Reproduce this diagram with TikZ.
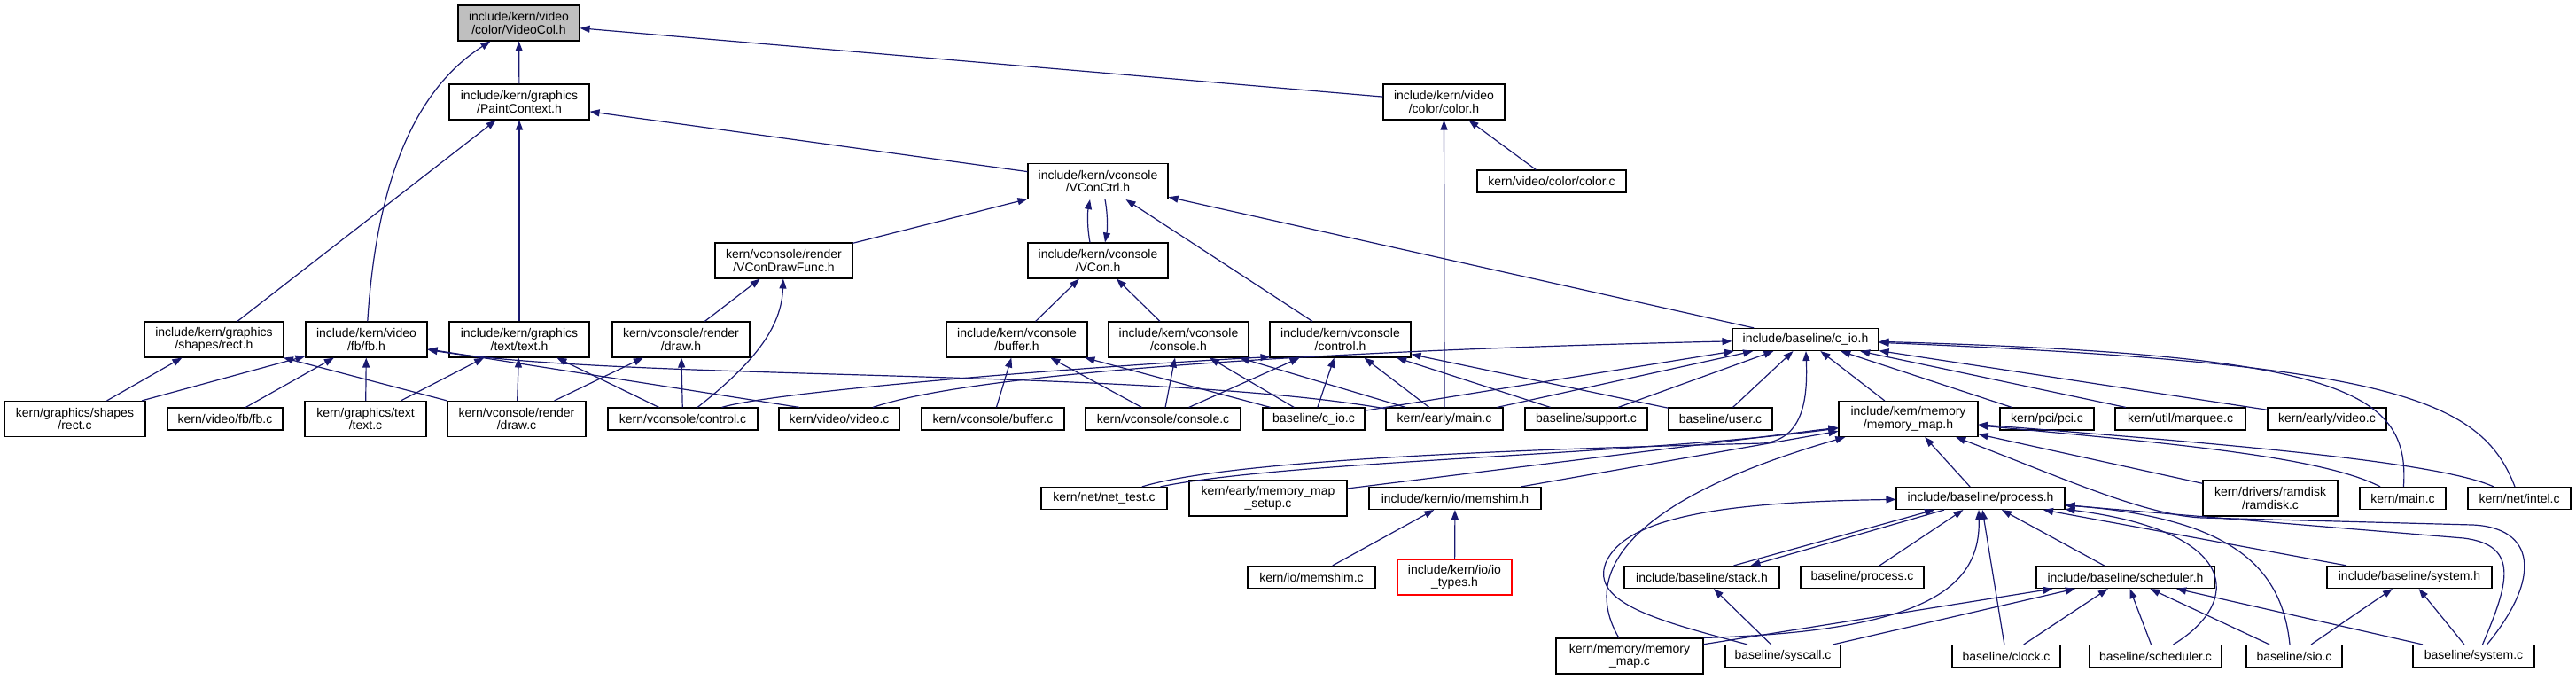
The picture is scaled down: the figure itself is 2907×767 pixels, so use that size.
\documentclass[tikz,border=0pt]{standalone}
\usepackage{fontspec}
\setmainfont{Liberation Sans}
\usetikzlibrary{arrows.meta}
\definecolor{edgec}{HTML}{191970}
\definecolor{focusfill}{HTML}{BFBFBF}
\begin{document}
\begin{tikzpicture}[x=1pt,y=-1pt,
  nd/.style={draw=black, line width=1.1pt, fill=white, inner xsep=0pt, inner ysep=1pt, align=center, font=\fontsize{14}{14.7}\selectfont, minimum height=25pt},
  nd2/.style={nd, minimum height=40pt},
  ar/.style={draw=edgec, line width=1.2pt, -{Triangle[length=11pt,width=8pt]}}
]
\useasboundingbox (0,0) rectangle (2907,767);
% row 1-4
\node[nd2, fill=focusfill, minimum width=137pt] (videocol) at (585.5,26) {include/kern/video\\/color/VideoCol.h};
\node[nd2, minimum width=158pt] (paintctx) at (586,115) {include/kern/graphics\\/PaintContext.h};
\node[nd2, minimum width=137pt] (colorh) at (1629.5,115) {include/kern/video\\/color/color.h};
\node[nd2, minimum width=158pt] (vconctrl) at (1239,204.5) {include/kern/vconsole\\/VConCtrl.h};
\node[nd, minimum width=168pt] (colorc) at (1751,204.5) {kern/video/color/color.c};
\node[nd2, minimum width=155pt] (drawfunc) at (884.5,294) {kern/vconsole/render\\/VConDrawFunc.h};
\node[nd2, minimum width=158pt] (vcon) at (1239,294) {include/kern/vconsole\\/VCon.h};
% row 5
\node[nd2, minimum width=157pt] (recth) at (241.5,383) {include/kern/graphics\\/shapes/rect.h};
\node[nd2, minimum width=137pt] (fbh) at (413.5,383) {include/kern/video\\/fb/fb.h};
\node[nd2, minimum width=158pt] (texth) at (586,383) {include/kern/graphics\\/text/text.h};
\node[nd2, minimum width=155pt] (drawh) at (768.5,383) {kern/vconsole/render\\/draw.h};
\node[nd2, minimum width=159pt] (bufferh) at (1147.5,383) {include/kern/vconsole\\/buffer.h};
\node[nd2, minimum width=158pt] (consoleh) at (1330,383) {include/kern/vconsole\\/console.h};
\node[nd2, minimum width=159pt] (controlh) at (1512.5,383) {include/kern/vconsole\\/control.h};
\node[nd, minimum width=165pt] (cioh) at (2037.5,383) {include/baseline/c\_io.h};
% row 6
\node[nd2, minimum width=159pt] (rectc) at (84.5,472.5) {kern/graphics/shapes\\/rect.c};
\node[nd, minimum width=130pt] (fbc) at (254,472.5) {kern/video/fb/fb.c};
\node[nd2, minimum width=137pt] (textc) at (412.5,472.5) {kern/graphics/text\\/text.c};
\node[nd2, minimum width=156pt] (drawc) at (583,472.5) {kern/vconsole/render\\/draw.c};
\node[nd, minimum width=169pt] (controlc) at (770.5,472.5) {kern/vconsole/control.c};
\node[nd, minimum width=136pt] (videoc) at (947,472.5) {kern/video/video.c};
\node[nd, minimum width=161pt] (bufferc) at (1120.5,472.5) {kern/vconsole/buffer.c};
\node[nd, minimum width=175pt] (consolec) at (1312.5,472.5) {kern/vconsole/console.c};
\node[nd, minimum width=115pt] (cioc) at (1482.5,472.5) {baseline/c\_io.c};
\node[nd, minimum width=132pt] (earlymain) at (1630,472.5) {kern/early/main.c};
\node[nd, minimum width=138pt] (supportc) at (1790,472.5) {baseline/support.c};
\node[nd, minimum width=117pt] (userc) at (1941.5,472.5) {baseline/user.c};
\node[nd2, minimum width=157pt] (memmaph) at (2153.5,472.5) {include/kern/memory\\/memory\_map.h};
\node[nd, minimum width=106pt] (pcic) at (2310,472.5) {kern/pci/pci.c};
\node[nd, minimum width=147pt] (marqueec) at (2460.5,472.5) {kern/util/marquee.c};
\node[nd, minimum width=134pt] (earlyvideo) at (2626,472.5) {kern/early/video.c};
% row 7
\node[nd, minimum width=142pt] (nettest) at (1246,562) {kern/net/net\_test.c};
\node[nd2, minimum width=178pt] (mmsetup) at (1431,562) {kern/early/memory\_map\\\_setup.c};
\node[nd, minimum width=194pt] (memshimh) at (1642,562) {include/kern/io/memshim.h};
\node[nd, minimum width=190pt] (processh) at (2235,562) {include/baseline/process.h};
\node[nd2, minimum width=152pt] (ramdisk) at (2562,562) {kern/drivers/ramdisk\\/ramdisk.c};
\node[nd, minimum width=97pt] (kmain) at (2711.5,562) {kern/main.c};
\node[nd, minimum width=116pt] (intel) at (2843,562) {kern/net/intel.c};
% row 8
\node[nd, minimum width=144pt] (memshimc) at (1480,651) {kern/io/memshim.c};
\node[nd2, draw=red, minimum width=129pt] (iotypes) at (1641.5,651) {include/kern/io/io\\\_types.h};
\node[nd, minimum width=175pt] (stackh) at (1920.5,651) {include/baseline/stack.h};
\node[nd, minimum width=139pt] (processc) at (2101.5,651) {baseline/process.c};
\node[nd, minimum width=201pt] (schedh) at (2398.5,651) {include/baseline/scheduler.h};
\node[nd, minimum width=186pt] (systemh) at (2719,651) {include/baseline/system.h};
% row 9
\node[nd2, minimum width=166pt] (mmapc) at (1839,740) {kern/memory/memory\\\_map.c};
\node[nd, minimum width=130pt] (syscallc) at (2012,740) {baseline/syscall.c};
\node[nd, minimum width=122pt] (clockc) at (2264,740) {baseline/clock.c};
\node[nd, minimum width=149pt] (schedc) at (2432.5,740) {baseline/scheduler.c};
\node[nd, minimum width=108pt] (sioc) at (2589,740) {baseline/sio.c};
\node[nd, minimum width=137pt] (systemc) at (2791.5,740) {baseline/system.c};

% edges to upper rows
\draw[ar] (paintctx) -- (videocol);
\draw[ar] (fbh) .. controls (425,200) and (470,100) .. (videocol);
\draw[ar] (colorh) -- (videocol);
\draw[ar] (vconctrl) -- (paintctx);
\draw[ar] (recth) -- (paintctx);
\draw[ar] (texth) -- (paintctx);
\draw[ar] (colorc) -- (colorh);
\draw[ar] (earlymain) -- (colorh);
\draw[ar] (drawfunc) -- (vconctrl);
\draw[ar] ([xshift=-9pt]vcon.north) .. controls +(-3,-16) and +(-3,16) .. ([xshift=-9pt]vconctrl.south);
\draw[ar] ([xshift=8pt]vconctrl.south) .. controls +(3,16) and +(3,-16) .. ([xshift=8pt]vcon.north);
\draw[ar] (controlh) -- (vconctrl);
\draw[ar] (cioh) -- (vconctrl);
\draw[ar] (bufferh) -- (vcon);
\draw[ar] (consoleh) -- (vcon);
\draw[ar] (drawh) -- (drawfunc);
\draw[ar] (controlc) .. controls (850,410) and (882,370) .. (drawfunc);

% row 6 -> row 5 (left)
\draw[ar] (rectc) -- (recth);
\draw[ar] (rectc) -- (fbh);
\draw[ar] (drawc) -- (recth);
\draw[ar] (fbc) -- (fbh);
\draw[ar] (textc) -- (fbh);
\draw[ar] ([xshift=-45pt]videoc.north) -- (fbh);
\draw[ar] (earlymain) .. controls (1300,415) and (700,430) .. (fbh);
\draw[ar] (textc) -- (texth);
\draw[ar] (drawc) -- (texth);
\draw[ar] (controlc) -- (texth);
\draw[ar] (drawc) -- (drawh);
\draw[ar] (controlc) -- (drawh);
\draw[ar] (controlc) .. controls (880,440) and (1250,412) .. ([xshift=1pt,yshift=1pt]controlh.south west);
\draw[ar] (videoc) .. controls (1100,420) and (1500,395) .. (cioh);

% row 6 -> row 5 (middle)
\draw[ar] (bufferc) -- (bufferh);
\draw[ar] (consolec) -- (bufferh);
\draw[ar] (cioc) -- (bufferh);
\draw[ar] (consolec) -- (consoleh);
\draw[ar] (cioc) -- (consoleh);
\draw[ar] (earlymain) -- (consoleh);
\draw[ar] (consolec) -- (controlh);
\draw[ar] (cioc) -- (controlh);
\draw[ar] (earlymain) -- (controlh);
\draw[ar] (supportc) -- (controlh);
\draw[ar] (userc) -- (controlh);
\draw[ar] (cioc) -- (cioh);
\draw[ar] (earlymain) -- (cioh);
\draw[ar] (supportc) -- (cioh);
\draw[ar] (userc) -- (cioh);
\draw[ar] (memmaph) -- (cioh);
\draw[ar] (pcic) -- (cioh);
\draw[ar] (marqueec) -- (cioh);
\draw[ar] (earlyvideo) -- (cioh);
\draw[ar] (kmain) .. controls (2720,440) and (2640,400) .. (cioh);
\draw[ar] (intel) .. controls (2800,450) and (2700,410) .. (cioh);
\draw[ar] (nettest) .. controls (1400,515) and (1800,505) .. (1990,500) .. controls (2035,495) and (2040,450) .. (cioh);

% memory_map.h
\draw[ar] (nettest) .. controls (1450,520) and (1850,513) .. (memmaph);
\draw[ar] (mmsetup) -- (memmaph);
\draw[ar] (memshimh) -- (memmaph);
\draw[ar] (processh) -- (memmaph);
\draw[ar] (ramdisk) -- (memmaph);
\draw[ar] (kmain) .. controls (2620,515) and (2450,500) .. (memmaph);
\draw[ar] (intel) .. controls (2750,520) and (2500,500) .. (memmaph);
\draw[ar] (mmapc) .. controls (1780,640) and (1850,560) .. (memmaph);
\draw[ar] ([xshift=15pt]systemc.north) .. controls (2870,650) and (2860,595) .. (2790,592) -- (2485,584) .. controls (2420,581) and (2330,540) .. (memmaph);

% process.h
\draw[ar] ([xshift=36pt]stackh.north) -- ([xshift=-52pt]processh.south);
\draw[ar] ([xshift=-41pt]processh.south) -- ([xshift=55pt]stackh.north);
\draw[ar] (processc) -- (processh);
\draw[ar] (schedh) -- (processh);
\draw[ar] (systemh) -- (processh);
\draw[ar] ([xshift=-40pt]syscallc.north) .. controls (1870,700) and (1795,680) .. (1812,635) .. controls (1835,580) and (1960,566) .. (processh);
\draw[ar] (mmapc.north east) .. controls (2180,712) and (2235,660) .. ([xshift=-2pt]processh.south);
\draw[ar] (clockc) -- (processh);
\draw[ar] ([xshift=20pt]schedc.north) .. controls (2530,680) and (2530,600) .. (processh);
\draw[ar] ([xshift=-5pt]sioc.north) .. controls (2575,640) and (2520,585) .. (processh);
\draw[ar] ([xshift=10pt]systemc.north) .. controls (2830,660) and (2845,615) .. (2780,607) -- (processh);

% scheduler.h, stack.h, system.h
\draw[ar] (mmapc) -- (schedh);
\draw[ar] (syscallc) -- (schedh);
\draw[ar] (clockc) -- (schedh);
\draw[ar] (schedc) -- (schedh);
\draw[ar] (sioc) -- (schedh);
\draw[ar] (systemc) -- (schedh);
\draw[ar] (syscallc) -- (stackh);
\draw[ar] (sioc) -- (systemh);
\draw[ar] (systemc) -- (systemh);

% memshim.h
\draw[ar] (memshimc) -- (memshimh);
\draw[ar] (iotypes) -- (memshimh);
\end{tikzpicture}
\end{document}
